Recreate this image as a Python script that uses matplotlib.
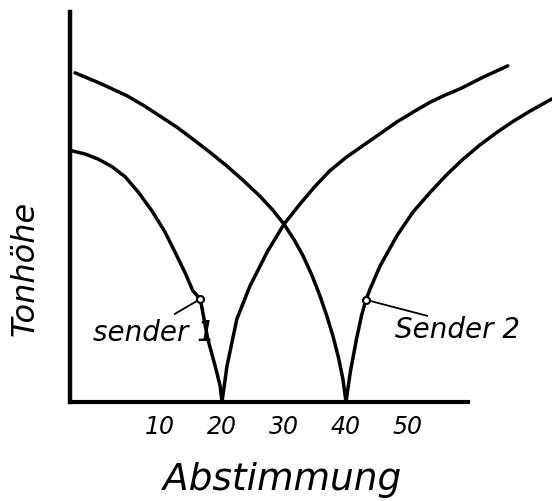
import matplotlib
matplotlib.use("Agg")
import matplotlib.pyplot as plt

# ---- data ----
# Sender 1: zero beat at Abstimmung = 20
s1_left_x = [-4.2, -2.1, 0.0, 2.3, 4.4, 6.5, 8.7, 10.8, 12.4, 14.0, 15.3, 16.5,
             17.7, 18.9, 19.7, 20.0]
s1_left_y = [64.4, 63.6, 62.3, 60.3, 57.7, 53.8, 49.0, 43.6, 38.5, 33.3, 28.5, 26.4,
             16.2, 9.2, 4.1, 0.0]
s1_right_x = [20.0, 20.8, 22.4, 24.5, 27.3, 30.0, 32.6, 35.0, 37.4, 40.0, 42.7,
              45.5, 48.2, 51.0, 53.6, 56.0, 58.4, 62.0, 66.1]
s1_right_y = [0.0, 9.2, 21.3, 29.7, 38.5, 45.6, 50.8, 55.3, 59.3, 62.7, 65.7,
              68.8, 71.8, 74.5, 76.9, 78.7, 80.3, 83.2, 86.2]

# Sender 2: zero beat at Abstimmung = 40
s2_left_x = [-3.7, 0.5, 4.7, 7.4, 10.0, 12.7, 15.3, 18.0, 20.8, 23.5, 26.1, 28.2,
             30.0, 31.6, 33.1, 34.5, 35.8, 36.9, 37.9, 38.8, 39.5, 40.0]
s2_left_y = [84.4, 81.6, 78.5, 76.0, 73.3, 70.5, 67.4, 64.1, 60.5, 56.7, 52.8, 49.2,
             45.6, 41.7, 37.4, 32.5, 27.2, 22.1, 16.9, 11.3, 5.9, 0.0]
s2_right_x = [40.0, 40.7, 41.7, 42.5, 43.2, 43.9, 45.5, 48.2, 50.8, 53.6, 56.2,
              58.9, 61.6, 64.4, 67.0, 69.7, 73.2]
s2_right_y = [0.0, 7.7, 16.2, 22.1, 26.2, 29.0, 34.9, 42.6, 48.7, 53.8, 58.2,
              62.3, 65.9, 69.2, 72.0, 74.6, 77.7]

# marked points (small circles) with their labels
marker_x = [16.5, 43.2]
marker_y = [26.4, 26.2]
marker_labels = ["sender 1", "Sender 2"]
leader_end_x = [12.4, 53.1]
leader_end_y = [22.6, 22.1]
label_x = [-0.8, 47.9]
label_y = [17.9, 18.7]

tick_values = [10, 20, 30, 40, 50]
tick_labels = ["10", "20", "30", "40", "50"]
x_axis_end = 59.7
x_label = "Abstimmung"
y_label = "Tonhöhe"

# ---- figure ----
W, H = 552, 502
fig = plt.figure(figsize=(W / 100, H / 100), dpi=100)
ax = fig.add_axes([70 / W, (H - 403) / H, (W - 70) / W, (403 - 13) / H])
ax.set_xlim(-4.52, 73.23)
ax.set_ylim(0, 100)

lw = 2.5
for xs, ys in [(s1_left_x, s1_left_y), (s1_right_x, s1_right_y),
               (s2_left_x, s2_left_y), (s2_right_x, s2_right_y)]:
    ax.plot(xs, ys, color="black", lw=lw, solid_capstyle="round",
            solid_joinstyle="round", clip_on=False)

for mx, my, ex, ey, lx, ly, txt in zip(marker_x, marker_y, leader_end_x,
                                        leader_end_y, label_x, label_y,
                                        marker_labels):
    ax.plot([mx, ex], [my, ey], color="black", lw=1.3, clip_on=False)
    ax.plot([mx], [my], marker="o", ms=5, mfc="white", mec="black",
            mew=1.5, clip_on=False, zorder=5)
    ax.text(lx, ly, txt, ha="left", va="center", fontsize=20,
            style="italic", color="black")

for s in ["top", "right"]:
    ax.spines[s].set_visible(False)
ax.spines["left"].set_linewidth(3.2)
ax.spines["bottom"].set_linewidth(3.0)
ax.spines["bottom"].set_bounds(-4.52, x_axis_end)
ax.set_yticks([])
ax.set_xticks(tick_values)
ax.set_xticklabels(tick_labels, fontsize=17, style="italic")
ax.tick_params(axis="x", length=0, pad=9)

fig.text(25 / W, 1 - 268 / H, y_label, rotation=90, ha="center",
         va="center", fontsize=23, style="italic")
fig.text(282 / W, 1 - 480 / H, x_label, ha="center", va="center",
         fontsize=27, style="italic")

fig.savefig("out.png", dpi=100, facecolor="white")
